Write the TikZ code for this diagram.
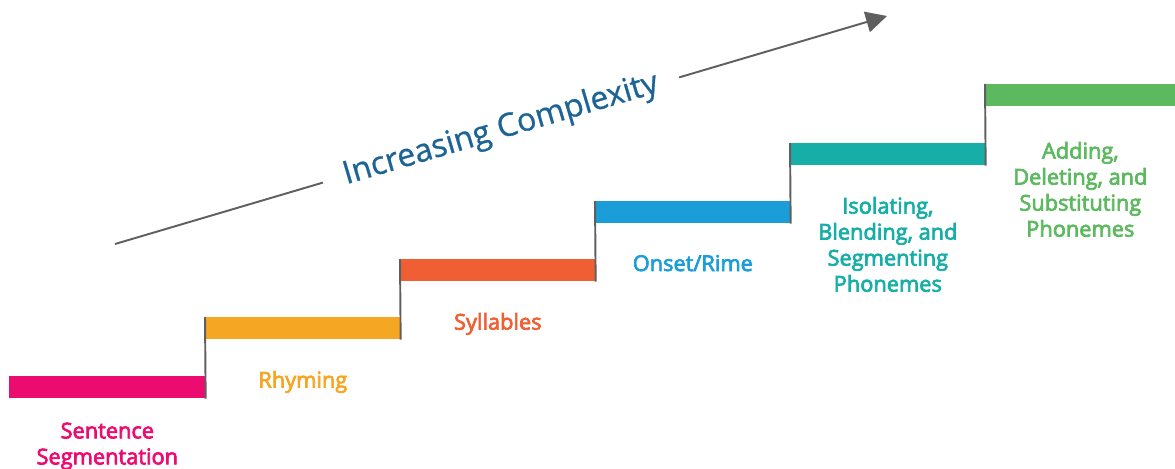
\documentclass[tikz,border=0pt]{standalone}
\usepackage{fontspec}
\setmainfont{Open Sans}
\newfontfamily\labelfont{Open Sans}[FakeBold=3.2]
\newfontfamily\titlefont{Open Sans}[FakeBold=0.8]
\usepackage{xcolor}
\usepackage{tikz}
\usetikzlibrary{positioning,arrows.meta}
\definecolor{pinkstep}{RGB}{236,12,112}
\definecolor{orangestep}{RGB}{245,166,35}
\definecolor{redstep}{RGB}{240,95,52}
\definecolor{bluestep}{RGB}{26,157,217}
\definecolor{tealstep}{RGB}{22,174,166}
\definecolor{greenstep}{RGB}{92,185,95}
\definecolor{titleblue}{RGB}{28,100,150}
\definecolor{linegray}{RGB}{95,95,95}

\begin{document}
\begin{tikzpicture}[
  x=0.02cm, y=-0.02cm,
  node distance=0.62cm,
  bar/.style={rectangle, anchor=north west, inner sep=0pt, minimum width=3.9cm, minimum height=0.44cm},
  steplabel/.style={inner sep=0pt, align=center, font=\labelfont\fontsize{12.4}{14.8}\selectfont},
  riser/.style={draw=linegray, line width=1.1pt},
  trend/.style={draw=linegray, line width=1.1pt, -{Triangle[length=0.42cm, width=0.42cm]}}
]
  \useasboundingbox (0,0) rectangle (1175,469);

  % Nodes
  \node[bar, fill=pinkstep, minimum width=3.92cm] (sentence) at (9,376) {};
  \node[bar, fill=orangestep] (rhyming) at (205,317) {};
  \node[bar, fill=redstep] (syllables) at (400,259) {};
  \node[bar, fill=bluestep] (onset) at (595,201) {};
  \node[bar, fill=tealstep] (isolating) at (790,143) {};
  \node[bar, fill=greenstep, minimum width=3.8cm] (adding) at (985,84) {};

  \node[steplabel, text=pinkstep, below=0.47cm of sentence] (sentencetext) {Sentence\\Segmentation};
  \node[steplabel, text=orangestep, below=of rhyming] (rhymingtext) {Rhyming};
  \node[steplabel, text=redstep, below=of syllables] (syllablestext) {Syllables};
  \node[steplabel, text=bluestep, below=of onset] (onsettext) {Onset/Rime};
  \node[steplabel, text=tealstep, below=of isolating] (isolatingtext) {Isolating,\\Blending, and\\Segmenting\\Phonemes};
  \node[steplabel, text=greenstep, below=0.7cm of adding] (addingtext) {Adding,\\Deleting, and\\Substituting\\Phonemes};

  \coordinate (low) at (115,244);
  \coordinate (high) at (887,16);

  % Arrows
  \draw[riser] (rhyming.north west) -- (sentence.south east);
  \draw[riser] (syllables.north west) -- (rhyming.south east);
  \draw[riser] (onset.north west) -- (syllables.south east);
  \draw[riser] (isolating.north west) -- (onset.south east);
  \draw[riser] (adding.north west) -- (isolating.south east);

  \draw[trend] (low) -- node[sloped, fill=white, inner xsep=0.44cm, inner ysep=0.1cm, text=titleblue, font=\titlefont\fontsize{18.2}{21}\selectfont] (complexity) {Increasing Complexity} (high);

\end{tikzpicture}
\end{document}
